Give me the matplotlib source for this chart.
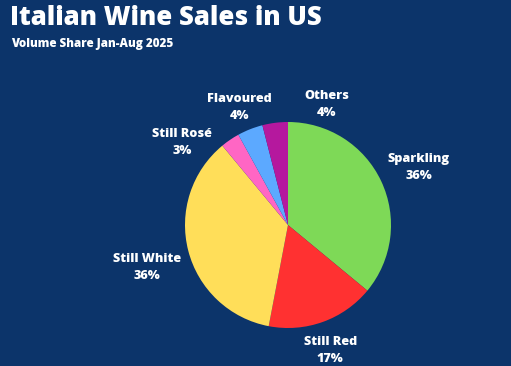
import matplotlib.pyplot as plt
import numpy as np

categories = ["Sparkling", "Still Red", "Still White", "Still Rosé", "Flavoured", "Others"]
shares = [36, 17, 36, 3, 4, 4]
colors = ["#7ed957", "#ff3131", "#ffde59", "#ff66c4", "#5ca9ff", "#b5189e"]

bg = "#0c346a"

# label placement (angle in degrees, radius multiplier), layout only
label_pos = [(25, 1.40), (-71, 1.26), (-164.5, 1.42), (141, 1.32), (112, 1.26), (72.7, 1.26)]

plt.rcParams["font.family"] = ["Open Sans", "DejaVu Sans"]

fig = plt.figure(figsize=(5.11, 3.66), dpi=100, facecolor=bg)
ax = fig.add_axes([0, 0, 1, 1])
ax.set_facecolor(bg)

cx, cy, r = 288, 366 - 225, 103
ax.pie(shares, colors=colors, startangle=90, counterclock=False,
       center=(cx, cy), radius=r, wedgeprops=dict(linewidth=0))
ax.set_xlim(0, 511)
ax.set_ylim(0, 366)
ax.set_aspect("equal")
ax.axis("off")

for name, val, (ang, d) in zip(categories, shares, label_pos):
    a = np.deg2rad(ang)
    ax.text(cx + d * r * np.cos(a), cy + d * r * np.sin(a) - 3, f"{name}\n{val}%",
            ha="center", va="center", color="white", fontsize=9.1,
            fontweight=800, linespacing=1.55)

fig.text(10 / 511, 1 - 18 / 366, "Italian Wine Sales in US", color="white",
         fontsize=18.5, fontweight=800, ha="left", va="center")
fig.text(11 / 511, 1 - 44 / 366, "Volume Share Jan-Aug 2025", color="white",
         fontsize=8.4, fontweight=800, ha="left", va="center")

fig.savefig("out.png", dpi=100, facecolor=bg)
